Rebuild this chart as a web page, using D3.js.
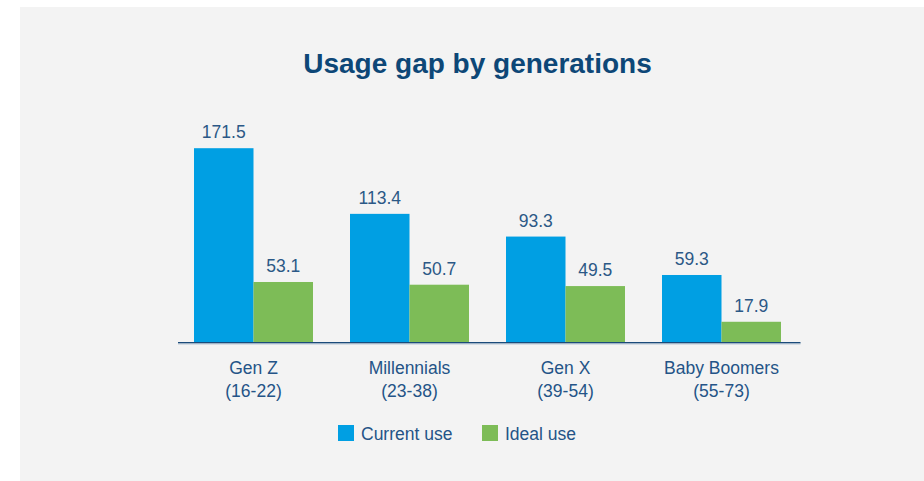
<!DOCTYPE html>
<html>
<head>
<meta charset="utf-8">
<script src="https://cdn.jsdelivr.net/npm/d3@7"></script>
<style>
  html, body { margin: 0; padding: 0; background: #ffffff; }
  svg { display: block; }
  text { font-family: "Liberation Sans", Arial, Helvetica, sans-serif; }
</style>
</head>
<body>
<svg id="chart" width="924" height="481"></svg>
<script>
// Generations and their age ranges
const categories = ["Gen Z", "Millennials", "Gen X", "Baby Boomers"];
const ageRanges = ["(16-22)", "(23-38)", "(39-54)", "(55-73)"];
// Series
const seriesNames = ["Current use", "Ideal use"];
const currentUse = [171.5, 113.4, 93.3, 59.3];
const idealUse = [53.1, 50.7, 49.5, 17.9];
const seriesColors = ["#009fe3", "#7dbc57"];

const W = 924, H = 481;
const svg = d3.select("#chart");

// Panel background
svg.append("rect")
  .attr("x", 20).attr("y", 7)
  .attr("width", W - 20).attr("height", H - 7)
  .attr("fill", "#f3f3f3");

// Title
svg.append("text")
  .attr("x", 477.5).attr("y", 73)
  .attr("text-anchor", "middle")
  .attr("font-size", 28).attr("font-weight", "bold")
  .attr("fill", "#0d4777")
  .text("Usage gap by generations");

const baseY = 342;
const y = d3.scaleLinear().domain([0, 175]).range([baseY, baseY - 175 * 1.13]);
const xCenter = d3.scalePoint().domain(categories).range([253.5, 721.5]);
const xInner = d3.scaleBand().domain(seriesNames).range([-59.5, 59.5]).padding(0);

const rows = categories.map((c, i) => ({
  cat: c, age: ageRanges[i],
  values: [currentUse[i], idealUse[i]]
}));

const groups = svg.append("g").selectAll("g")
  .data(rows).join("g")
  .attr("transform", d => `translate(${xCenter(d.cat)},0)`);

const cells = d => d.values.map((v, j) => ({ name: seriesNames[j], v, j }));

groups.selectAll("rect")
  .data(cells).join("rect")
  .attr("x", d => xInner(d.name))
  .attr("width", xInner.bandwidth())
  .attr("y", d => y(d.v))
  .attr("height", d => y(0) - y(d.v))
  .attr("fill", d => seriesColors[d.j]);

groups.selectAll("text.val")
  .data(cells).join("text")
  .attr("class", "val")
  .attr("x", d => xInner(d.name) + xInner.bandwidth() / 2)
  .attr("y", d => y(d.v) - 10)
  .attr("text-anchor", "middle")
  .attr("font-size", 17.5)
  .attr("fill", "#2b5886")
  .text(d => d.v.toFixed(1));

// Baseline axis
svg.append("line")
  .attr("x1", 178).attr("x2", 800.5)
  .attr("y1", baseY + 0.75).attr("y2", baseY + 0.75)
  .attr("stroke", "#1b4b7a").attr("stroke-width", 1.5);
svg.append("line")
  .attr("x1", 178).attr("x2", 800.5)
  .attr("y1", baseY + 2).attr("y2", baseY + 2)
  .attr("stroke", "#b9c8d6").attr("stroke-width", 1);

// Category labels
groups.append("text")
  .attr("y", 374).attr("text-anchor", "middle")
  .attr("font-size", 17.5).attr("fill", "#245487")
  .text(d => d.cat);
groups.append("text")
  .attr("y", 397).attr("text-anchor", "middle")
  .attr("font-size", 17.5).attr("fill", "#245487")
  .text(d => d.age);

// Legend
const legendX = [338, 482];
const legend = svg.append("g").selectAll("g")
  .data(seriesNames).join("g")
  .attr("transform", (d, i) => `translate(${legendX[i]},425)`);
legend.append("rect")
  .attr("width", 16).attr("height", 16)
  .attr("fill", (d, i) => seriesColors[i]);
legend.append("text")
  .attr("x", 23).attr("y", 14.5)
  .attr("font-size", 17.5).attr("fill", "#245487")
  .text(d => d);
</script>
</body>
</html>
